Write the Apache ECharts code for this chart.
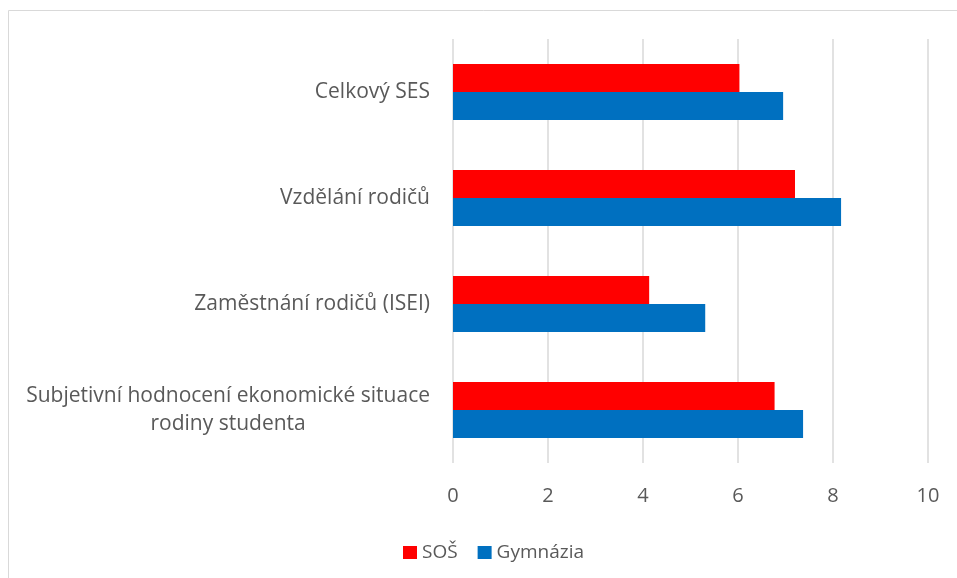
<!DOCTYPE html>
<html>
<head>
<meta charset="utf-8">
<script src="https://cdn.jsdelivr.net/npm/echarts@6/dist/echarts.min.js"></script>
<style>
  html, body { margin: 0; padding: 0; background: #fff; }
  #chart { width: 957px; height: 578px; }
</style>
</head>
<body>
<div id="chart"></div>
<script>
const categories = [
  'Celkový SES',
  'Vzdělání rodičů',
  'Zaměstnání rodičů (ISEI)',
  'Subjetivní hodnocení ekonomické situace\nrodiny studenta'
];
const sosValues = [6.03, 7.2, 4.13, 6.77];
const gymValues = [6.95, 8.17, 5.31, 7.37];
const xTicks = [0, 2, 4, 6, 8, 10];

const FONT = '"Open Sans", sans-serif';
const TEXT = '#595959';

const chart = echarts.init(document.getElementById('chart'));

chart.setOption({
  animation: false,
  textStyle: { fontFamily: FONT },
  graphic: [{
    type: 'rect',
    shape: { x: 8.5, y: 10.5, width: 1200, height: 1200 },
    style: { fill: 'none', stroke: '#d9d9d9', lineWidth: 1 },
    silent: true
  }],
  grid: { left: 453, right: 29, top: 39, bottom: 115, containLabel: false },
  legend: {
    left: 398,
    top: 538,
    icon: 'rect',
    itemWidth: 14,
    itemHeight: 13,
    itemGap: 20,
    textStyle: { color: TEXT, fontSize: 19, fontFamily: FONT },
    data: ['SOŠ', 'Gymnázia']
  },
  xAxis: {
    type: 'value',
    min: xTicks[0],
    max: xTicks[xTicks.length - 1],
    interval: 2,
    axisLine: { show: false },
    axisTick: { show: false },
    axisLabel: { color: TEXT, fontSize: 20, margin: 23, fontFamily: FONT },
    splitLine: { lineStyle: { color: '#d9d9d9', width: 1.5 } }
  },
  yAxis: {
    type: 'category',
    inverse: true,
    data: categories,
    axisLine: { show: false },
    axisTick: { show: false },
    axisLabel: {
      margin: 23,
      align: 'right',
      formatter: v => v.split('\n').map(s => '{a|' + s + '}').join('\n'),
      rich: {
        a: { color: TEXT, fontSize: 21, fontFamily: FONT, lineHeight: 28, align: 'center' }
      }
    }
  },
  series: [
    {
      name: 'SOŠ',
      type: 'bar',
      data: sosValues,
      barWidth: 28,
      barGap: '0%',
      itemStyle: { color: '#ff0000' }
    },
    {
      name: 'Gymnázia',
      type: 'bar',
      data: gymValues,
      barWidth: 28,
      barGap: '0%',
      itemStyle: { color: '#0070c0' }
    }
  ]
});
</script>
</body>
</html>
